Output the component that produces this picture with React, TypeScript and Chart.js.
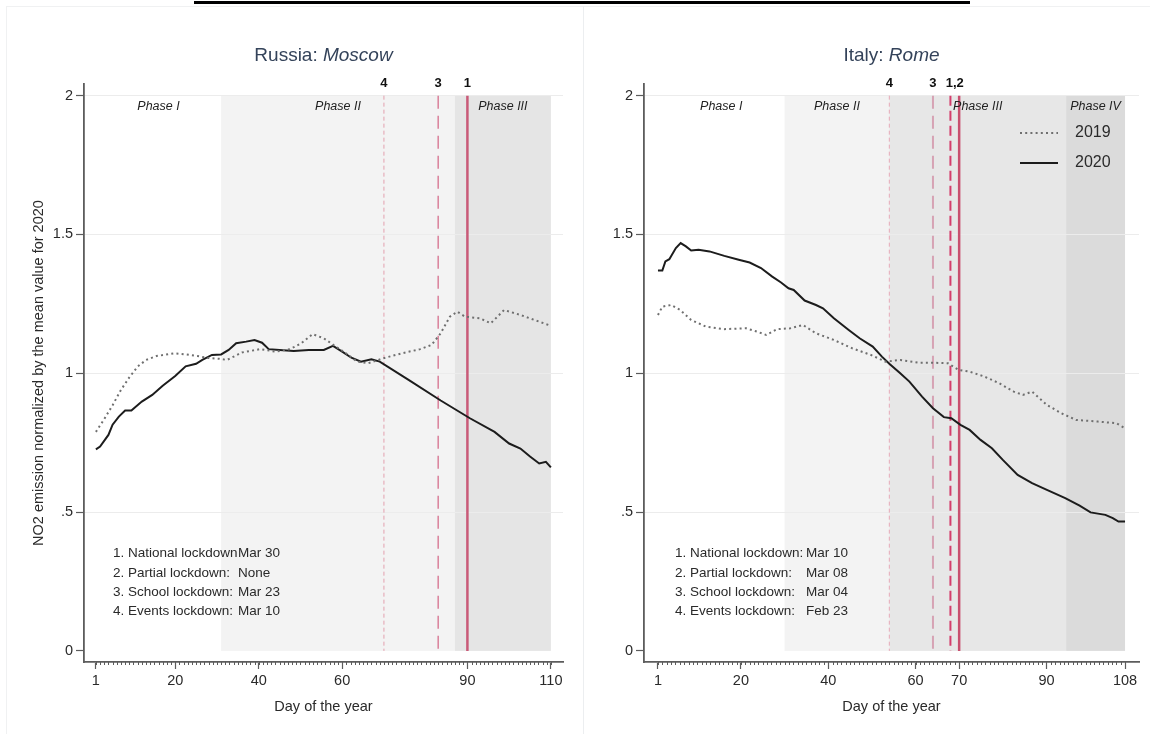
import React, { useEffect, useRef } from 'react';
import { Chart, registerables } from 'chart.js';

Chart.register(...registerables);

// ---------------- Data ----------------
const yTickValues = [0, 0.5, 1, 1.5, 2];
const yTickLabels = ['0', '.5', '1', '1.5', '2'];

// Moscow
const moscowXTicks = [1, 20, 40, 60, 90, 110];
const moscowDays2020 = [1, 2, 4, 5, 6.5, 8, 9.5, 12, 14.5, 17, 20, 22.5, 25, 26.5, 28.8, 31, 32.8, 34.6, 37, 39, 40.8, 42.4, 45, 48.4, 52, 55.6, 57.8, 60, 62.2, 64.5, 67, 69, 76, 83.6, 90.6, 96.5, 100, 102.7, 105, 107.2, 108.8, 110];
const moscow2020 = [0.726, 0.736, 0.778, 0.815, 0.844, 0.866, 0.866, 0.898, 0.922, 0.955, 0.99, 1.025, 1.034, 1.048, 1.066, 1.068, 1.084, 1.108, 1.114, 1.12, 1.11, 1.087, 1.084, 1.08, 1.084, 1.084, 1.099, 1.078, 1.056, 1.042, 1.05, 1.042, 0.975, 0.902, 0.838, 0.789, 0.747, 0.729, 0.7, 0.675, 0.681, 0.661];
const moscowDays2019 = [1, 3, 5, 7, 9, 11, 13, 15.5, 19.9, 22.5, 25.3, 28, 30.6, 32.4, 36, 40.4, 44, 47.5, 50.2, 52.9, 55.6, 58.2, 60.9, 63.6, 66.2, 69.8, 74.3, 78.7, 81.4, 83.6, 85.8, 87.6, 89.4, 93, 95.6, 98.8, 102.7, 107.2, 110];
const moscow2019 = [0.789, 0.835, 0.885, 0.94, 0.985, 1.024, 1.048, 1.062, 1.072, 1.068, 1.062, 1.055, 1.052, 1.048, 1.075, 1.087, 1.078, 1.087, 1.108, 1.141, 1.126, 1.099, 1.072, 1.042, 1.036, 1.054, 1.072, 1.087, 1.102, 1.144, 1.204, 1.222, 1.204, 1.198, 1.18, 1.228, 1.21, 1.186, 1.171];
const moscowPhaseStart = [1, 31, 87];
const moscowPhaseEnd = [31, 87, 110];
const moscowPhaseNames = ['Phase I', 'Phase II', 'Phase III'];
const moscowEventDays = [70, 83, 90];
const moscowEventLabelDays = [70, 83, 90];
const moscowEventLabels = ['4', '3', '1'];
const moscowNoteLabels = ['1. National lockdown', '2. Partial lockdown:', '3. School lockdown:', '4. Events lockdown:'];
const moscowNoteDates = ['Mar 30', 'None', 'Mar 23', 'Mar 10'];

// Rome
const romeXTicks = [1, 20, 40, 60, 70, 90, 108];
const romeDays2020 = [1, 2, 2.7, 3.6, 5.1, 6.2, 7.4, 8.6, 10.3, 12.8, 16.2, 19.5, 22, 24.6, 27.1, 29.2, 30.9, 32.1, 34.6, 37.2, 38.8, 41.3, 44.7, 47.2, 50.2, 52.3, 54, 56.5, 58.6, 61.5, 64, 66.5, 68.2, 70.3, 72.4, 74.9, 77.5, 80, 83.4, 86.7, 90.1, 94.3, 97.6, 100.1, 103.5, 105.2, 106.5, 108];
const rome2020 = [1.37, 1.37, 1.403, 1.411, 1.451, 1.469, 1.457, 1.442, 1.445, 1.439, 1.423, 1.409, 1.399, 1.379, 1.349, 1.327, 1.306, 1.3, 1.262, 1.246, 1.234, 1.198, 1.156, 1.126, 1.096, 1.06, 1.034, 1.0, 0.97, 0.916, 0.874, 0.842, 0.838, 0.814, 0.796, 0.76, 0.73, 0.688, 0.634, 0.604, 0.58, 0.55, 0.523, 0.499, 0.49, 0.478, 0.466, 0.466];
const romeDays2019 = [1, 2, 4, 6.1, 8.6, 12, 16.2, 21.2, 23.7, 25.8, 28.3, 31.3, 34.2, 37.2, 41.3, 45.5, 49.8, 53.1, 56.5, 60.7, 64, 67.4, 69.9, 72.4, 75.8, 79.2, 82.5, 84.6, 86.7, 90.1, 93.4, 96.8, 101.8, 106, 108];
const rome2019 = [1.21, 1.24, 1.246, 1.228, 1.192, 1.168, 1.159, 1.162, 1.15, 1.138, 1.159, 1.162, 1.174, 1.144, 1.12, 1.09, 1.066, 1.042, 1.048, 1.038, 1.038, 1.036, 1.012, 1.006, 0.988, 0.964, 0.934, 0.922, 0.934, 0.886, 0.856, 0.832, 0.826, 0.82, 0.802];
const romePhaseStart = [1, 30, 54, 94.5];
const romePhaseEnd = [30, 54, 94.5, 108];
const romePhaseNames = ['Phase I', 'Phase II', 'Phase III', 'Phase IV'];
const romeEventDays = [54, 64, 68, 70];
const romeEventLabelDays = [54, 64, 69];
const romeEventLabels = ['4', '3', '1,2'];
const romeNoteLabels = ['1. National lockdown:', '2. Partial lockdown:', '3. School lockdown:', '4. Events lockdown:'];
const romeNoteDates = ['Mar 10', 'Mar 08', 'Mar 04', 'Feb 23'];

const seriesNames = ['2019', '2020'];

// ---------------- Styles ----------------
const FONT = "'Liberation Sans', Arial, Helvetica, sans-serif";
const TEXT = '#2a2a2a';
const AXIS = '#5c5c5c';
const LINE2019 = '#6f6f6f';
const LINE2020 = '#1c1c1c';

type EventStyle = { color: string; width: number; dash: number[] };

interface PanelCfg {
  titlePlain: string;
  titleItalic: string;
  xMin: number;
  xMax: number;
  xTicks: number[];
  days2019: number[];
  vals2019: number[];
  days2020: number[];
  vals2020: number[];
  phaseStart: number[];
  phaseEnd: number[];
  phaseNames: string[];
  phaseFill: string[];
  eventDays: number[];
  eventStyles: EventStyle[];
  eventLabelDays: number[];
  eventLabels: string[];
  noteLabels: string[];
  noteDates: string[];
  noteX: number;
  noteValX: number;
  showYTitle: boolean;
  showLegend: boolean;
  padLeft: number;
  padRight: number;
  yWidth: number;
  maxDay: number;
}

const moscowCfg: PanelCfg = {
  titlePlain: 'Russia: ',
  titleItalic: 'Moscow',
  xMin: -1.85,
  xMax: 112.9,
  xTicks: moscowXTicks,
  days2019: moscowDays2019,
  vals2019: moscow2019,
  days2020: moscowDays2020,
  vals2020: moscow2020,
  phaseStart: moscowPhaseStart,
  phaseEnd: moscowPhaseEnd,
  phaseNames: moscowPhaseNames,
  phaseFill: ['rgba(0,0,0,0)', '#f3f3f3', '#e5e5e5'],
  eventDays: moscowEventDays,
  eventStyles: [
    { color: '#e3a0ae', width: 1, dash: [4, 3] },
    { color: '#d9809a', width: 1.5, dash: [13, 7] },
    { color: '#c95a78', width: 2.5, dash: [] },
  ],
  eventLabelDays: moscowEventLabelDays,
  eventLabels: moscowEventLabels,
  noteLabels: moscowNoteLabels,
  noteDates: moscowNoteDates,
  noteX: 29,
  noteValX: 154,
  showYTitle: true,
  showLegend: false,
  padLeft: 10,
  padRight: 20,
  yWidth: 74,
  maxDay: 110,
};

const romeCfg: PanelCfg = {
  titlePlain: 'Italy: ',
  titleItalic: 'Rome',
  xMin: -2.2,
  xMax: 111.2,
  xTicks: romeXTicks,
  days2019: romeDays2019,
  vals2019: rome2019,
  days2020: romeDays2020,
  vals2020: rome2020,
  phaseStart: romePhaseStart,
  phaseEnd: romePhaseEnd,
  phaseNames: romePhaseNames,
  phaseFill: ['rgba(0,0,0,0)', '#f3f3f3', '#e7e7e7', '#dbdbdb'],
  eventDays: romeEventDays,
  eventStyles: [
    { color: '#e6a9b7', width: 1, dash: [4, 3] },
    { color: '#d6a3b4', width: 2, dash: [13, 7] },
    { color: '#d43d6c', width: 2, dash: [10, 5] },
    { color: '#c8506f', width: 2.5, dash: [] },
  ],
  eventLabelDays: romeEventLabelDays,
  eventLabels: romeEventLabels,
  noteLabels: romeNoteLabels,
  noteDates: romeNoteDates,
  noteX: 31,
  noteValX: 162,
  showYTitle: false,
  showLegend: true,
  padLeft: 21,
  padRight: 11,
  yWidth: 40,
  maxDay: 108,
};

function decorPlugin(cfg: PanelCfg) {
  return {
    id: 'decor',
    beforeDraw(chart: any) {
      const { ctx, scales } = chart;
      const x = scales.x;
      const y = scales.y;
      const yTop = y.getPixelForValue(2);
      const yBot = y.getPixelForValue(0);
      ctx.save();
      cfg.phaseStart.forEach((s, i) => {
        const x0 = x.getPixelForValue(s);
        const x1 = x.getPixelForValue(cfg.phaseEnd[i]);
        ctx.fillStyle = cfg.phaseFill[i];
        ctx.fillRect(x0, yTop, x1 - x0, yBot - yTop);
      });
      ctx.restore();
    },
    beforeDatasetsDraw(chart: any) {
      const { ctx, scales, chartArea } = chart;
      const x = scales.x;
      const y = scales.y;
      const yTop = y.getPixelForValue(2);
      const yBot = y.getPixelForValue(0);
      ctx.save();
      cfg.eventDays.forEach((d, i) => {
        const st = cfg.eventStyles[i];
        const px = x.getPixelForValue(d);
        ctx.beginPath();
        ctx.setLineDash(st.dash);
        ctx.strokeStyle = st.color;
        ctx.lineWidth = st.width;
        ctx.moveTo(px, yTop);
        ctx.lineTo(px, yBot);
        ctx.stroke();
      });
      ctx.setLineDash([]);
      ctx.fillStyle = '#111';
      ctx.font = `bold 13px ${FONT}`;
      ctx.textAlign = 'center';
      ctx.textBaseline = 'middle';
      cfg.eventLabelDays.forEach((d, i) => {
        ctx.fillText(cfg.eventLabels[i], x.getPixelForValue(d), chartArea.top - 1);
      });
      // phase labels
      ctx.font = `italic 12.5px ${FONT}`;
      ctx.fillStyle = '#222';
      cfg.phaseNames.forEach((n, i) => {
        const cx = (x.getPixelForValue(cfg.phaseStart[i]) + x.getPixelForValue(cfg.phaseEnd[i])) / 2;
        ctx.fillText(n, cx, y.getPixelForValue(2) + 10.5);
      });
      ctx.restore();
    },
    afterDatasetsDraw(chart: any) {
      const { ctx, scales, chartArea } = chart;
      const x = scales.x;
      ctx.save();
      // minor ticks every day
      ctx.strokeStyle = AXIS;
      ctx.lineWidth = 1;
      ctx.beginPath();
      for (let d = 1; d <= cfg.maxDay; d++) {
        const px = Math.round(x.getPixelForValue(d)) + 0.5;
        ctx.moveTo(px, chartArea.bottom);
        ctx.lineTo(px, chartArea.bottom + 3);
      }
      ctx.stroke();
      // title
      const cx = (chartArea.left + chartArea.right) / 2;
      const fPlain = `19px ${FONT}`;
      const fItal = `italic 19px ${FONT}`;
      ctx.font = fPlain;
      const w1 = ctx.measureText(cfg.titlePlain).width;
      ctx.font = fItal;
      const w2 = ctx.measureText(cfg.titleItalic).width;
      const startX = cx - (w1 + w2) / 2;
      ctx.fillStyle = '#34435a';
      ctx.textBaseline = 'middle';
      ctx.textAlign = 'left';
      ctx.font = fPlain;
      ctx.fillText(cfg.titlePlain, startX, 56);
      ctx.font = fItal;
      ctx.fillText(cfg.titleItalic, startX + w1, 56);
      // notes
      ctx.font = `13.5px ${FONT}`;
      ctx.fillStyle = TEXT;
      cfg.noteLabels.forEach((t, i) => {
        const ty = 553.5 + i * 19.3;
        ctx.fillText(t, chartArea.left + cfg.noteX, ty);
        ctx.fillText(cfg.noteDates[i], chartArea.left + cfg.noteValX, ty);
      });
      // legend
      if (cfg.showLegend) {
        const ds = chart.data.datasets;
        const lx = chartArea.left + 376;
        [133, 163].forEach((ly, i) => {
          ctx.beginPath();
          ctx.strokeStyle = ds[i].borderColor;
          ctx.lineWidth = ds[i].borderWidth;
          ctx.setLineDash(ds[i].borderDash || []);
          ctx.moveTo(lx, ly);
          ctx.lineTo(lx + 38, ly);
          ctx.stroke();
          ctx.setLineDash([]);
          ctx.font = `16px ${FONT}`;
          ctx.fillStyle = TEXT;
          ctx.fillText(ds[i].label, lx + 55, ly);
        });
      }
      ctx.restore();
    },
  };
}

function makeConfig(cfg: PanelCfg): any {
  return {
    type: 'line',
    data: {
      datasets: [
        {
          label: seriesNames[0],
          data: cfg.days2019.map((d, i) => ({ x: d, y: cfg.vals2019[i] })),
          borderColor: LINE2019,
          borderWidth: 2,
          borderDash: [2, 3.2],
          pointRadius: 0,
          tension: 0,
        },
        {
          label: seriesNames[1],
          data: cfg.days2020.map((d, i) => ({ x: d, y: cfg.vals2020[i] })),
          borderColor: LINE2020,
          borderWidth: 2,
          pointRadius: 0,
          tension: 0,
        },
      ],
    },
    options: {
      responsive: false,
      animation: false,
      events: [],
      layout: { padding: { left: cfg.padLeft, right: cfg.padRight, top: 84, bottom: 10 } },
      plugins: { legend: { display: false }, tooltip: { enabled: false }, title: { display: false } },
      scales: {
        x: {
          type: 'linear',
          min: cfg.xMin,
          max: cfg.xMax,
          afterBuildTicks: (s: any) => {
            s.ticks = cfg.xTicks.map((v) => ({ value: v }));
          },
          afterFit: (s: any) => {
            s.height = 62;
          },
          ticks: {
            autoSkip: false,
            maxRotation: 0,
            color: TEXT,
            padding: 3,
            font: { family: FONT, size: 14.5 },
            callback: (v: any) => String(v),
          },
          grid: { drawOnChartArea: false, tickLength: 7, tickColor: AXIS, tickWidth: 1.2 },
          border: { display: true, color: AXIS, width: 1.8 },
          title: {
            display: true,
            text: 'Day of the year',
            color: TEXT,
            font: { family: FONT, size: 14.5 },
            padding: { top: 0, bottom: 8 },
          },
        },
        y: {
          min: -0.04,
          max: 2.042,
          afterBuildTicks: (s: any) => {
            s.ticks = yTickValues.map((v) => ({ value: v }));
          },
          afterFit: (s: any) => {
            s.width = cfg.yWidth;
          },
          ticks: {
            color: TEXT,
            padding: 3,
            font: { family: FONT, size: 14.5 },
            callback: (_v: any, i: number) => yTickLabels[i],
          },
          grid: {
            color: (c: any) => (c.tick && c.tick.value === 0 ? 'rgba(0,0,0,0)' : '#ececec'),
            lineWidth: 1,
            tickLength: 8,
            tickColor: AXIS,
            tickWidth: 1.2,
          },
          border: { display: true, color: AXIS, width: 1.8 },
          title: {
            display: cfg.showYTitle,
            text: 'NO2 emission normalized by the mean value for 2020',
            color: TEXT,
            font: { family: FONT, size: 14.5 },
            padding: { top: 20, bottom: 0 },
          },
        },
      },
    },
    plugins: [decorPlugin(cfg)],
  };
}

function Panel({ cfg, left, width }: { cfg: PanelCfg; left: number; width: number }) {
  const ref = useRef<HTMLCanvasElement>(null);
  useEffect(() => {
    if (!ref.current) return;
    const chart = new Chart(ref.current, makeConfig(cfg));
    return () => chart.destroy();
  }, [cfg]);
  return (
    <canvas
      ref={ref}
      width={width}
      height={734}
      style={{ position: 'absolute', left, top: 0, width, height: 734, display: 'block' }}
    />
  );
}

export default function App() {
  return (
    <div
      style={{
        position: 'fixed',
        left: 0,
        top: 0,
        width: 1150,
        height: 734,
        background: '#ffffff',
        overflow: 'hidden',
      }}
    >
      <div style={{ position: 'absolute', left: 194, top: 1, width: 776, height: 3, background: '#000' }} />
      <div style={{ position: 'absolute', left: 6, top: 6, width: 1144, height: 1, background: '#f0f1f2' }} />
      <div style={{ position: 'absolute', left: 6, top: 6, width: 1, height: 728, background: '#f0f1f2' }} />
      <div style={{ position: 'absolute', left: 583, top: 6, width: 1, height: 728, background: '#eceef0' }} />
      <Panel cfg={moscowCfg} left={0} width={583} />
      <Panel cfg={romeCfg} left={583} width={567} />
    </div>
  );
}
